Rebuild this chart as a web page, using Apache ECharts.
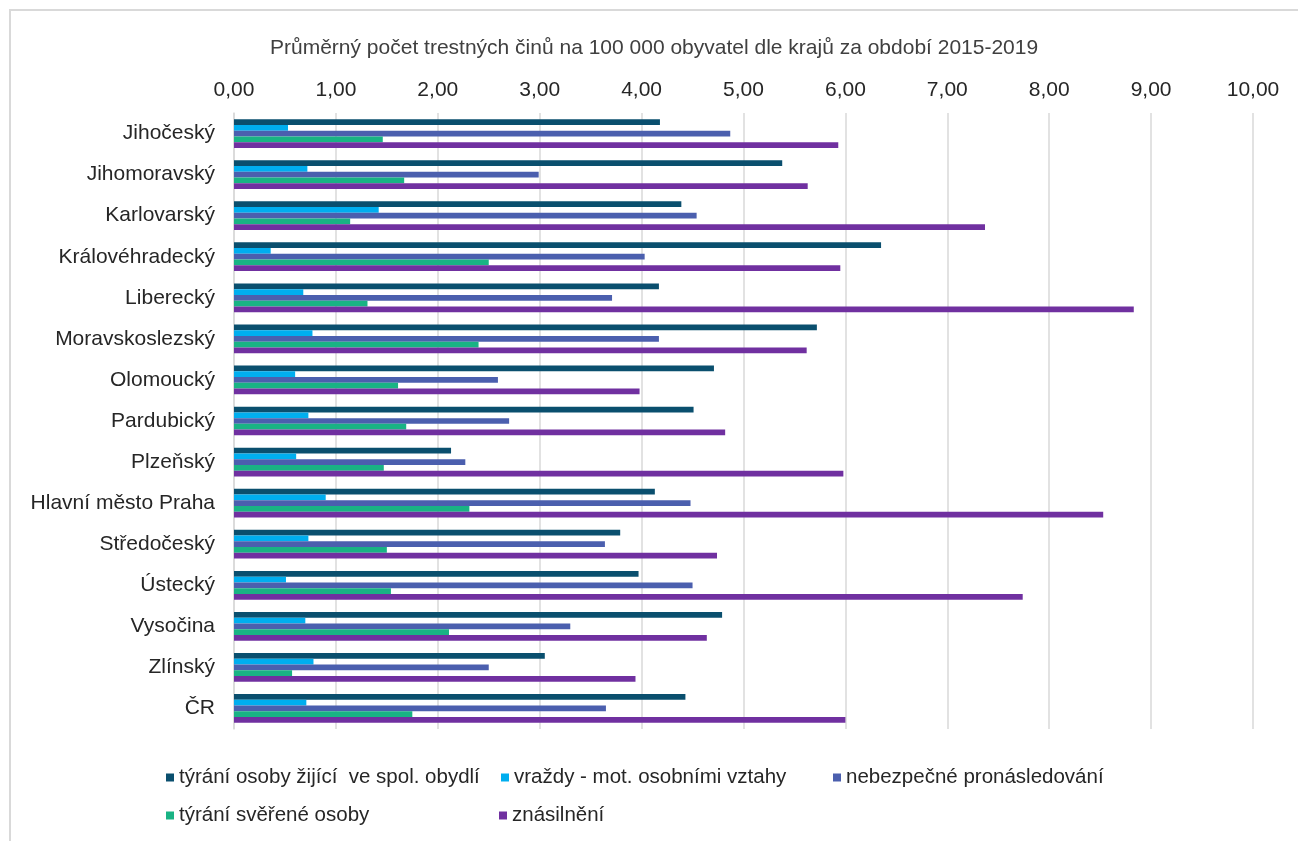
<!DOCTYPE html>
<html>
<head>
<meta charset="utf-8">
<script src="https://cdn.jsdelivr.net/npm/echarts@6/dist/echarts.min.js"></script>
<style>
html,body{margin:0;padding:0;background:#fff;}
#chart{width:1298px;height:841px;}
</style>
</head>
<body>
<div id="chart"></div>
<script>
const titleText = 'Průměrný počet trestných činů na 100 000 obyvatel dle krajů za období 2015-2019';
const categories = ['Jihočeský','Jihomoravský','Karlovarský','Královéhradecký','Liberecký','Moravskoslezský','Olomoucký','Pardubický','Plzeňský','Hlavní město Praha','Středočeský','Ústecký','Vysočina','Zlínský','ČR'];
const seriesNames = ['týrání osoby žijící  ve spol. obydlí','vraždy - mot. osobními vztahy','nebezpečné pronásledování','týrání svěřené osoby','znásilnění'];
const tyraniSpol = [4.18,5.38,4.39,6.35,4.17,5.72,4.71,4.51,2.13,4.13,3.79,3.97,4.79,3.05,4.43];
const vrazdy     = [0.53,0.72,1.42,0.36,0.68,0.77,0.60,0.73,0.61,0.90,0.73,0.51,0.70,0.78,0.71];
const pronasl    = [4.87,2.99,4.54,4.03,3.71,4.17,2.59,2.70,2.27,4.48,3.64,4.50,3.30,2.50,3.65];
const sverene    = [1.46,1.67,1.14,2.50,1.31,2.40,1.61,1.69,1.47,2.31,1.50,1.54,2.11,0.57,1.75];
const znasilneni = [5.93,5.63,7.37,5.95,8.83,5.62,3.98,4.82,5.98,8.53,4.74,7.74,4.64,3.94,6.00];
const xTicks = [0,1,2,3,4,5,6,7,8,9,10];

const colors = ['#0a4f6e','#00aeef','#4b5fae','#19b384','#7030a0'];
const seriesData = [tyraniSpol, vrazdy, pronasl, sverene, znasilneni];
const font = 'Arial, "Liberation Sans", sans-serif';
const fs = 21;

const chart = echarts.init(document.getElementById('chart'), null, {renderer:'canvas'});
const legendPos = [[166,767],[501,767],[833,767],[166,805],[499,805]];
const option = {
  animation: false,
  backgroundColor: '#fff',
  graphic: [{
    type: 'rect', silent: true, z: -10,
    shape: {x: 10, y: 10, width: 1400, height: 900},
    style: {fill: 'none', stroke: '#d9d9d9', lineWidth: 2}
  }],
  title: {
    text: titleText, left: 265, top: 33,
    textStyle: {fontFamily: font, fontSize: fs, fontWeight: 'normal', color: '#404040'}
  },
  legend: seriesNames.map((n, i) => ({
    data: [n], left: legendPos[i][0], top: legendPos[i][1],
    icon: 'rect', itemWidth: 8, itemHeight: 8, padding: 0,
    textStyle: {fontFamily: font, fontSize: 20.5, color: '#262626'}
  })),
  grid: {left: 234, right: 45, top: 113, height: 616, containLabel: false},
  xAxis: {
    type: 'value', position: 'top', min: 0, max: 10, interval: 1,
    axisLine: {show: false}, axisTick: {show: false},
    axisLabel: {
      margin: 12, fontFamily: font, fontSize: fs, color: '#262626',
      formatter: v => v.toFixed(2).replace('.', ',')
    },
    splitLine: {show: true, lineStyle: {color: '#d9d9d9', width: 1.5}}
  },
  yAxis: {
    type: 'category', data: categories, inverse: true,
    axisLine: {show: true, lineStyle: {color: '#d9d9d9', width: 1.5}},
    axisTick: {show: false},
    axisLabel: {margin: 19, fontFamily: font, fontSize: fs, color: '#262626'}
  },
  series: seriesNames.map((n, i) => ({
    name: n, type: 'bar', data: seriesData[i],
    barGap: '0%', barCategoryGap: '30%',
    itemStyle: {color: colors[i]}
  }))
};
chart.setOption(option);
</script>
</body>
</html>
